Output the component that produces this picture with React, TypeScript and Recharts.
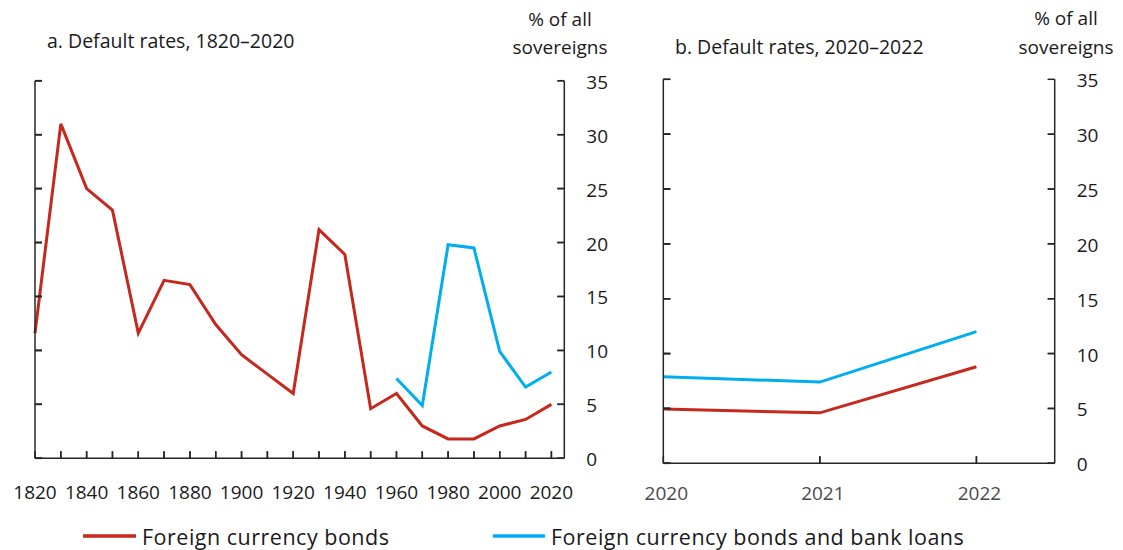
import React from "react";
import { LineChart, Line, XAxis, YAxis } from "recharts";

// ---- Data ----
const decades = [1820, 1830, 1840, 1850, 1860, 1870, 1880, 1890, 1900, 1910, 1920, 1930, 1940, 1950, 1960, 1970, 1980, 1990, 2000, 2010, 2020];
const foreignBondsHist = [11.6, 31.0, 25.0, 23.0, 11.6, 16.5, 16.1, 12.4, 9.6, 7.8, 6.0, 21.2, 18.9, 4.6, 6.0, 3.0, 1.8, 1.8, 3.0, 3.6, 5.0];
const bondsLoansHist = [null, null, null, null, null, null, null, null, null, null, null, null, null, null, 7.4, 4.9, 19.8, 19.5, 9.9, 6.6, 8.0];

const recentYears = [2020, 2021, 2022];
const foreignBondsRecent = [4.95, 4.6, 8.8];
const bondsLoansRecent = [7.9, 7.4, 12.0];

const yTicks = [0, 5, 10, 15, 20, 25, 30, 35];
const labelYears = [1820, 1840, 1860, 1880, 1900, 1920, 1940, 1960, 1980, 2000, 2020];
const histDomain = [1820, 2025];
const recentDomain = [2020, 2022.5];

const seriesNames = ["Foreign currency bonds", "Foreign currency bonds and bank loans"];
const titleA = "a. Default rates, 1820\u20132020";
const titleB = "b. Default rates, 2020\u20132022";
const unitLine1 = "% of all";
const unitLine2 = "sovereigns";

const histData = decades.map((year, i) => ({ year, fx: foreignBondsHist[i], fxl: bondsLoansHist[i] }));
const recentData = recentYears.map((year, i) => ({ year, fx: foreignBondsRecent[i], fxl: bondsLoansRecent[i] }));

// tick-mark anchor points (placed through the chart scales)
const histXTickPts = decades.map((year) => ({ year, bx: 0 }));
const histLeftTickPts = yTicks.map((t) => ({ year: histDomain[0], ly: t }));
const histRightTickPts = yTicks.map((t) => ({ year: histDomain[1], ry: t }));
const recentXTickPts = recentYears.map((year) => ({ year, bx: 0 }));
const recentLeftTickPts = yTicks.map((t) => ({ year: recentDomain[0], ly: t }));
const recentRightTickPts = yTicks.map((t) => ({ year: recentDomain[1], ry: t }));

// ---- Styles ----
const RED = "#C6281E";
const BLUE = "#00AEEF";
const AXIS = "#262626";
const FONT = "'Open Sans', 'Noto Sans', sans-serif";
const TICK_FS = 19;
const TL = 7; // inward tick length

const upTick = (p: any) => (
  <line key={"u" + p.index} x1={p.cx} x2={p.cx} y1={p.cy - TL} y2={p.cy} stroke={AXIS} strokeWidth={1.5} />
);
const rightTick = (p: any) => (
  <line key={"r" + p.index} x1={p.cx} x2={p.cx + TL} y1={p.cy} y2={p.cy} stroke={AXIS} strokeWidth={1.5} />
);
const leftTick = (p: any) => (
  <line key={"l" + p.index} x1={p.cx - TL} x2={p.cx} y1={p.cy} y2={p.cy} stroke={AXIS} strokeWidth={1.5} />
);

const noLabel = () => <g />;

const xLabelHist = (props: any) => {
  const { x, y, payload } = props;
  const v = payload.value;
  if (!labelYears.includes(v)) return <g />;
  return (
    <text x={x} y={y + 34} textAnchor="middle" dominantBaseline="central" fontFamily={FONT} fontSize={TICK_FS} fill="#1a1a1a">
      {v}
    </text>
  );
};

const xLabelRecent = (props: any) => {
  const { x, y, payload } = props;
  return (
    <text x={x + 3} y={y + 30} textAnchor="middle" dominantBaseline="central" fontFamily={FONT} fontSize={TICK_FS} fill="#4a4a4a">
      {payload.value}
    </text>
  );
};

const yLabelRight = (props: any) => {
  const { x, y, payload } = props;
  return (
    <text x={x + 22} y={y + 1} textAnchor="start" dominantBaseline="central" fontFamily={FONT} fontSize={TICK_FS} fill="#1a1a1a">
      {payload.value}
    </text>
  );
};

const axisLineStyle = { stroke: AXIS, strokeWidth: 1.5 };
const tickLineStyle = { stroke: AXIS, strokeWidth: 1.5 };

const tickSeries = (id: string, data: any[], key: string, dot: any) => (
  <Line
    key={id}
    id={id}
    name={id}
    yAxisId="r"
    data={data}
    dataKey={key}
    stroke="none"
    dot={dot}
    activeDot={false}
    legendType="none"
    tooltipType="none"
    isAnimationActive={false}
  />
);

// Overlay chart that only draws the inward tick marks, with mirrored axes placed inside the plot
const TickOverlay = (p: {
  width: number;
  margin: any;
  domain: number[];
  xTicks: number[];
  xPts: any[];
  lPts: any[];
  rPts: any[];
  prefix: string;
}) => (
  <LineChart width={p.width} height={550} data={p.xPts} margin={p.margin}>
    <XAxis
      dataKey="year"
      type="number"
      domain={p.domain}
      allowDataOverflow
      ticks={p.xTicks}
      interval={0}
      mirror
      height={TL}
      tickSize={TL}
      tickMargin={0}
      tickLine={tickLineStyle}
      axisLine={false}
      tick={noLabel}
    />
    <YAxis
      yAxisId="l"
      orientation="left"
      domain={[0, 35]}
      allowDataOverflow
      ticks={yTicks}
      interval={0}
      mirror
      width={TL}
      tickSize={TL}
      tickMargin={0}
      tickLine={tickLineStyle}
      axisLine={false}
      tick={noLabel}
    />
    <YAxis
      yAxisId="r"
      orientation="right"
      domain={[0, 35]}
      allowDataOverflow
      ticks={yTicks}
      interval={0}
      mirror
      width={TL}
      tickSize={TL}
      tickMargin={0}
      tickLine={tickLineStyle}
      axisLine={false}
      tick={noLabel}
    />
    {tickSeries(p.prefix + "-ox", p.xPts, "bx", upTick)}
    {tickSeries(p.prefix + "-ol", p.lPts, "ly", rightTick)}
    {tickSeries(p.prefix + "-or", p.rPts, "ry", leftTick)}
  </LineChart>
);

export default function App() {
  return (
    <div style={{ position: "fixed", left: 0, top: 0, width: 1123, height: 550, background: "#fff", overflow: "hidden" }}>
      <div style={{ position: "absolute", left: 0, top: 0 }}>
        <LineChart width={620} height={550} data={histData} margin={{ top: 80.7, right: 5.7, bottom: 51.7, left: 0 }}>
          <XAxis
            dataKey="year"
            type="number"
            domain={histDomain}
            ticks={decades}
            interval={0}
            height={40}
            tickSize={0}
            tickMargin={0}
            tickLine={false}
            axisLine={axisLineStyle}
            tick={xLabelHist}
          />
          <YAxis yAxisId="l" orientation="left" domain={[0, 35]} ticks={yTicks} width={35} tickLine={false} axisLine={axisLineStyle} tick={false} />
          <YAxis
            yAxisId="r"
            orientation="right"
            domain={[0, 35]}
            ticks={yTicks}
            interval={0}
            width={50}
            tickSize={0}
            tickMargin={0}
            tickLine={false}
            axisLine={axisLineStyle}
            tick={yLabelRight}
          />
          {tickSeries("hist-lticks", histLeftTickPts, "ly", rightTick)}
          <Line yAxisId="r" dataKey="fx" name={seriesNames[0]} stroke={RED} strokeWidth={3} dot={false} isAnimationActive={false} />
          <Line yAxisId="r" dataKey="fxl" name={seriesNames[1]} stroke={BLUE} strokeWidth={3} dot={false} isAnimationActive={false} />
        </LineChart>
      </div>
      <div style={{ position: "absolute", left: 0, top: 0, pointerEvents: "none" }}>
        <TickOverlay
          width={620}
          margin={{ top: 80.7, right: 55.7, bottom: 91.7, left: 35 }}
          domain={histDomain}
          xTicks={decades}
          xPts={histXTickPts}
          lPts={histLeftTickPts}
          rPts={histRightTickPts}
          prefix="hist"
        />
      </div>
      <div style={{ position: "absolute", left: 620, top: 0 }}>
        <LineChart width={503} height={550} data={recentData} margin={{ top: 79.3, right: 8.3, bottom: 46.7, left: 0 }}>
          <XAxis
            dataKey="year"
            type="number"
            domain={recentDomain}
            ticks={recentYears}
            interval={0}
            height={40}
            tickSize={0}
            tickMargin={0}
            tickLine={false}
            axisLine={axisLineStyle}
            tick={xLabelRecent}
          />
          <YAxis yAxisId="l" orientation="left" domain={[0, 35]} ticks={yTicks} width={43.3} tickLine={false} axisLine={axisLineStyle} tick={false} />
          <YAxis
            yAxisId="r"
            orientation="right"
            domain={[0, 35]}
            ticks={yTicks}
            interval={0}
            width={60}
            tickSize={0}
            tickMargin={0}
            tickLine={false}
            axisLine={axisLineStyle}
            tick={yLabelRight}
          />
          {tickSeries("recent-lticks", recentLeftTickPts, "ly", rightTick)}
          <Line yAxisId="r" dataKey="fx" name={seriesNames[0]} stroke={RED} strokeWidth={3} dot={false} isAnimationActive={false} />
          <Line yAxisId="r" dataKey="fxl" name={seriesNames[1]} stroke={BLUE} strokeWidth={3} dot={false} isAnimationActive={false} />
        </LineChart>
      </div>
      <div style={{ position: "absolute", left: 620, top: 0, pointerEvents: "none" }}>
        <TickOverlay
          width={503}
          margin={{ top: 79.3, right: 68.3, bottom: 86.7, left: 43.3 }}
          domain={recentDomain}
          xTicks={recentYears}
          xPts={recentXTickPts}
          lPts={recentLeftTickPts}
          rPts={recentRightTickPts}
          prefix="recent"
        />
      </div>
      <svg width={1123} height={550} style={{ position: "absolute", left: 0, top: 0, pointerEvents: "none" }} fontFamily={FONT}>
        <text x={47} y={40} fontSize={19.5} fill="#1a1a1a" dominantBaseline="central">{titleA}</text>
        <text x={560} y={19} fontSize={19} fill="#1a1a1a" textAnchor="middle" dominantBaseline="central">{unitLine1}</text>
        <text x={560} y={47} fontSize={19} fill="#1a1a1a" textAnchor="middle" dominantBaseline="central">{unitLine2}</text>
        <text x={675} y={46} fontSize={19.5} fill="#1a1a1a" dominantBaseline="central">{titleB}</text>
        <text x={1066} y={18} fontSize={19} fill="#1a1a1a" textAnchor="middle" dominantBaseline="central">{unitLine1}</text>
        <text x={1066} y={47} fontSize={19} fill="#1a1a1a" textAnchor="middle" dominantBaseline="central">{unitLine2}</text>
        <line x1={83} x2={136} y1={536} y2={536} stroke={RED} strokeWidth={3.5} />
        <text x={142} y={536} fontSize={21.5} letterSpacing={0.5} fill="#1a1a1a" dominantBaseline="central">{seriesNames[0]}</text>
        <line x1={493} x2={545} y1={536} y2={536} stroke={BLUE} strokeWidth={3.5} />
        <text x={551} y={536} fontSize={21.5} letterSpacing={0.5} fill="#1a1a1a" dominantBaseline="central">{seriesNames[1]}</text>
      </svg>
    </div>
  );
}
